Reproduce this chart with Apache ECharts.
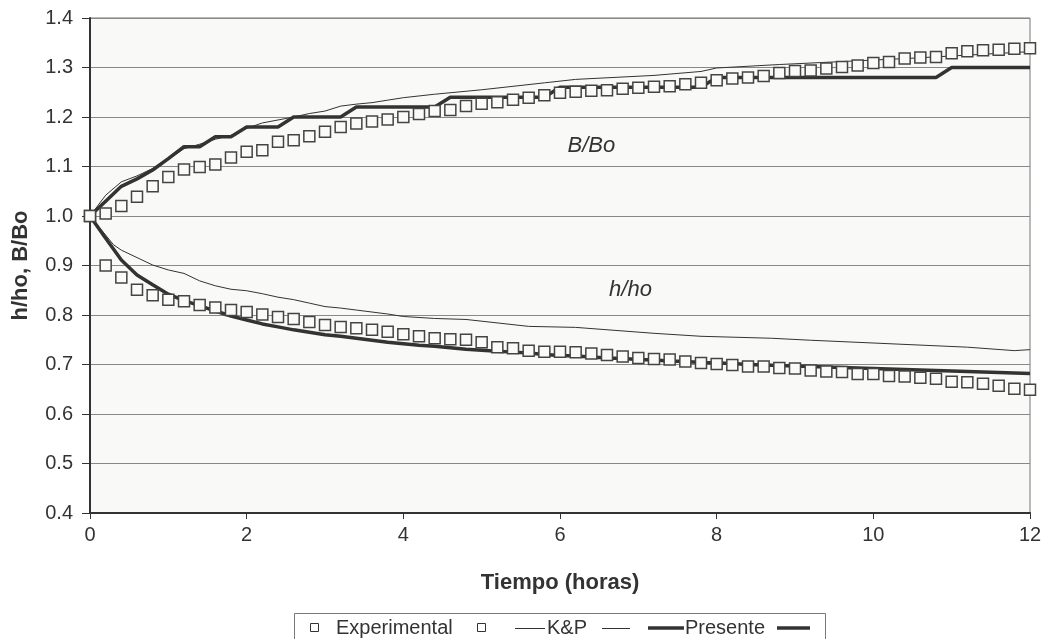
<!DOCTYPE html>
<html>
<head>
<meta charset="utf-8">
<script src="https://cdn.jsdelivr.net/npm/echarts@6/dist/echarts.min.js"></script>
<style>
  html, body { margin: 0; padding: 0; background: #fff; }
  #main { width: 1045px; height: 639px; }
</style>
</head>
<body>
<div id="main"></div>
<script>
// tiempo (horas), paso de 0.2
var tiempo = [0, 0.2, 0.4, 0.6, 0.8, 1, 1.2, 1.4, 1.6, 1.8, 2, 2.2, 2.4, 2.6, 2.8, 3, 3.2, 3.4, 3.6, 3.8,
    4, 4.2, 4.4, 4.6, 4.8, 5, 5.2, 5.4, 5.6, 5.8, 6, 6.2, 6.4, 6.6, 6.8, 7, 7.2, 7.4, 7.6, 7.8,
    8, 8.2, 8.4, 8.6, 8.8, 9, 9.2, 9.4, 9.6, 9.8, 10, 10.2, 10.4, 10.6, 10.8, 11, 11.2, 11.4, 11.6, 11.8, 12];

// Experimental
var expB = [1.000, 1.005, 1.020, 1.039, 1.060, 1.079, 1.094, 1.099, 1.104, 1.118, 1.130, 1.133, 1.150, 1.153, 1.161, 1.170, 1.180, 1.187, 1.191, 1.195,
    1.200, 1.206, 1.212, 1.214, 1.222, 1.227, 1.230, 1.235, 1.239, 1.244, 1.249, 1.251, 1.253, 1.254, 1.257, 1.259, 1.261, 1.262, 1.266, 1.269,
    1.274, 1.278, 1.280, 1.283, 1.289, 1.293, 1.294, 1.298, 1.301, 1.304, 1.309, 1.311, 1.318, 1.320, 1.321, 1.329, 1.333, 1.335, 1.336, 1.338, 1.339];
var expH = [1.000, 0.900, 0.876, 0.851, 0.840, 0.831, 0.828, 0.820, 0.815, 0.810, 0.806, 0.801, 0.796, 0.792, 0.786, 0.780, 0.776, 0.773, 0.770, 0.766,
    0.761, 0.757, 0.753, 0.751, 0.750, 0.745, 0.735, 0.733, 0.728, 0.726, 0.726, 0.725, 0.722, 0.719, 0.716, 0.713, 0.711, 0.710, 0.706, 0.703,
    0.701, 0.699, 0.696, 0.696, 0.693, 0.692, 0.688, 0.686, 0.685, 0.681, 0.681, 0.677, 0.676, 0.673, 0.671, 0.665, 0.664, 0.661, 0.657, 0.651, 0.649];

// Presente
var presB = [1.000, 1.030, 1.060, 1.075, 1.093, 1.116, 1.140, 1.140, 1.160, 1.160, 1.180, 1.180, 1.180, 1.200, 1.200, 1.200, 1.200, 1.220, 1.220, 1.220,
    1.220, 1.220, 1.220, 1.240, 1.240, 1.240, 1.240, 1.240, 1.240, 1.240, 1.260, 1.260, 1.260, 1.260, 1.260, 1.260, 1.260, 1.260, 1.260, 1.260,
    1.280, 1.280, 1.280, 1.280, 1.280, 1.280, 1.280, 1.280, 1.280, 1.280, 1.280, 1.280, 1.280, 1.280, 1.280, 1.300, 1.300, 1.300, 1.300, 1.300, 1.300];
var presH = [1.000, 0.955, 0.911, 0.881, 0.861, 0.842, 0.829, 0.819, 0.808, 0.798, 0.790, 0.782, 0.776, 0.770, 0.765, 0.760, 0.757, 0.753, 0.749, 0.745,
    0.742, 0.739, 0.737, 0.734, 0.731, 0.729, 0.727, 0.725, 0.723, 0.720, 0.718, 0.717, 0.715, 0.713, 0.712, 0.710, 0.709, 0.707, 0.706, 0.704,
    0.703, 0.702, 0.700, 0.699, 0.698, 0.697, 0.696, 0.695, 0.694, 0.693, 0.692, 0.691, 0.690, 0.689, 0.688, 0.687, 0.686, 0.685, 0.684, 0.683, 0.682];

// K&P [t, valor]
var kpB = [[0, 1.000], [0.2, 1.042], [0.4, 1.069], [0.6, 1.081], [0.8, 1.096], [1.0, 1.114], [1.2, 1.136], [1.4, 1.145], [1.6, 1.155], [1.8, 1.163],
    [2.0, 1.177], [2.2, 1.188], [2.4, 1.194], [2.6, 1.200], [2.8, 1.207], [3.0, 1.212], [3.2, 1.222], [3.4, 1.226], [3.6, 1.229], [3.8, 1.234],
    [4.0, 1.239], [4.4, 1.246], [5.0, 1.255], [5.8, 1.269], [6.2, 1.276], [7.2, 1.284], [7.8, 1.292], [8.0, 1.299], [8.8, 1.306], [9.6, 1.312],
    [10.4, 1.318], [11.2, 1.325], [12, 1.332]];
var kpH = [[0, 1.000], [0.3, 0.942], [0.4, 0.931], [0.6, 0.916], [0.8, 0.901], [1.0, 0.891], [1.2, 0.884], [1.4, 0.869], [1.6, 0.859], [1.8, 0.852],
    [2.0, 0.849], [2.2, 0.843], [2.4, 0.836], [2.6, 0.831], [2.8, 0.824], [3.0, 0.817], [3.2, 0.814], [3.4, 0.810], [3.6, 0.806], [3.8, 0.802],
    [4.0, 0.797], [4.4, 0.793], [4.8, 0.791], [5.6, 0.777], [6.2, 0.775], [7.2, 0.763], [7.8, 0.757], [8.7, 0.753], [9.2, 0.749], [10.2, 0.742],
    [11.2, 0.735], [11.8, 0.728], [12, 0.730]];

var yTicks = [0.4, 1.4, 0.1];
var xTicks = [0, 12, 2];

var fuente = 'Liberation Sans, Arial, sans-serif';

function pares(xs, ys) {
    var out = [];
    for (var i = 0; i < xs.length; i++) out.push([xs[i], ys[i]]);
    return out;
}

var myChart = echarts.init(document.getElementById('main'));

var marcador = {
    type: 'line',
    name: 'Experimental',
    symbol: 'rect',
    symbolSize: 11,
    showAllSymbol: true,
    lineStyle: { width: 0, opacity: 0 },
    itemStyle: { color: '#fafaf8', borderColor: '#444', borderWidth: 1.5 },
    z: 5
};

var option = {
    animation: false,
    grid: {
        left: 90, top: 18, right: 15, bottom: 126,
        show: true,
        backgroundColor: '#f9f9f7',
        borderColor: '#777',
        borderWidth: 1
    },
    xAxis: {
        type: 'value',
        min: xTicks[0], max: xTicks[1], interval: xTicks[2],
        name: 'Tiempo (horas)',
        nameLocation: 'middle',
        nameGap: 59,
        nameTextStyle: { fontFamily: fuente, fontSize: 22, fontWeight: 'bold', color: '#333' },
        axisLine: { lineStyle: { color: '#333', width: 2 } },
        axisTick: { length: 6, lineStyle: { color: '#333' } },
        axisLabel: { margin: 12, fontFamily: fuente, fontSize: 20, color: '#333' },
        splitLine: { show: false }
    },
    yAxis: {
        type: 'value',
        min: yTicks[0], max: yTicks[1], interval: yTicks[2],
        name: 'h/ho, B/Bo',
        nameLocation: 'middle',
        nameGap: 58,
        nameTextStyle: { fontFamily: fuente, fontSize: 22, fontWeight: 'bold', color: '#333' },
        axisLine: { show: true, lineStyle: { color: '#333', width: 2 } },
        axisTick: { show: true, length: 8, lineStyle: { color: '#333' } },
        axisLabel: {
            margin: 17, fontFamily: fuente, fontSize: 20, color: '#333',
            formatter: function (v) { return v.toFixed(1); }
        },
        splitLine: { lineStyle: { color: '#888', width: 1 } }
    },
    series: [
        {
            type: 'line', name: 'K&P', data: kpB, symbol: 'none',
            lineStyle: { color: '#333', width: 1 }, z: 3
        },
        {
            type: 'line', name: 'K&P', data: kpH, symbol: 'none',
            lineStyle: { color: '#333', width: 1 }, z: 3
        },
        {
            type: 'line', name: 'Presente', data: pares(tiempo, presB), symbol: 'none',
            lineStyle: { color: '#333', width: 3.5 }, z: 4
        },
        {
            type: 'line', name: 'Presente', data: pares(tiempo, presH), symbol: 'none',
            lineStyle: { color: '#333', width: 3.5 }, z: 4
        },
        Object.assign({}, marcador, { data: pares(tiempo, expB) }),
        Object.assign({}, marcador, { data: pares(tiempo, expH) })
    ]
};

// leyenda al estilo Excel
var ly = 628;
var leyenda = [
    { type: 'rect', shape: { x: 294.5, y: 613.5, width: 531, height: 40 }, style: { fill: '#fff', stroke: '#777', lineWidth: 1 } },
    { type: 'rect', shape: { x: 310.5, y: ly - 4.5, width: 8, height: 8 }, style: { fill: '#fff', stroke: '#333', lineWidth: 1 } },
    { type: 'text', x: 336, y: ly, style: { text: 'Experimental', font: '20px ' + fuente, fill: '#333', verticalAlign: 'middle' } },
    { type: 'rect', shape: { x: 477.5, y: ly - 4.5, width: 8, height: 8 }, style: { fill: '#fff', stroke: '#333', lineWidth: 1 } },
    { type: 'line', shape: { x1: 515, y1: ly + 0.5, x2: 545, y2: ly + 0.5 }, style: { stroke: '#333', lineWidth: 1 } },
    { type: 'text', x: 547, y: ly, style: { text: 'K&P', font: '20px ' + fuente, fill: '#333', verticalAlign: 'middle' } },
    { type: 'line', shape: { x1: 602, y1: ly + 0.5, x2: 630, y2: ly + 0.5 }, style: { stroke: '#333', lineWidth: 1 } },
    { type: 'line', shape: { x1: 648, y1: ly, x2: 684, y2: ly }, style: { stroke: '#333', lineWidth: 3.5 } },
    { type: 'text', x: 685, y: ly, style: { text: 'Presente', font: '20px ' + fuente, fill: '#333', verticalAlign: 'middle' } },
    { type: 'line', shape: { x1: 777, y1: ly, x2: 810, y2: ly }, style: { stroke: '#333', lineWidth: 3.5 } }
];
option.graphic = leyenda;

myChart.setOption(option);

// etiquetas de las curvas, ancladas a coordenadas de datos
var pB = myChart.convertToPixel({ gridIndex: 0 }, [6.4, 1.142]);
var pH = myChart.convertToPixel({ gridIndex: 0 }, [6.9, 0.85]);
myChart.setOption({
    graphic: leyenda.concat([
        { type: 'text', x: pB[0], y: pB[1], style: { text: 'B/Bo', font: 'italic 22px ' + fuente, fill: '#333', align: 'center', verticalAlign: 'middle' } },
        { type: 'text', x: pH[0], y: pH[1], style: { text: 'h/ho', font: 'italic 22px ' + fuente, fill: '#333', align: 'center', verticalAlign: 'middle' } }
    ])
});
</script>
</body>
</html>
